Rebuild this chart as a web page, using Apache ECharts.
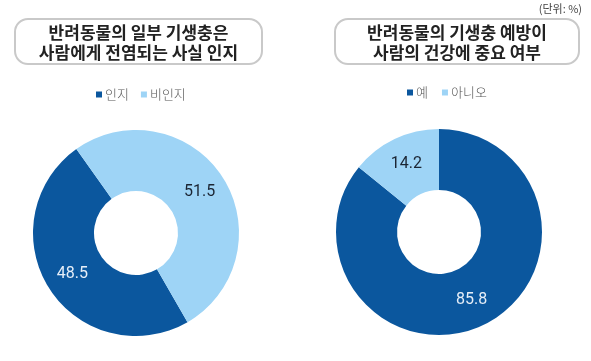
<!DOCTYPE html>
<html>
<head>
<meta charset="utf-8">
<script src="https://cdn.jsdelivr.net/npm/echarts@6/dist/echarts.min.js"></script>
<style>
html,body{margin:0;padding:0;background:#fff;}
#chart{width:591px;height:361px;}
</style>
</head>
<body>
<div id="chart"></div>
<script>
const leftTitle = '반려동물의 일부 기생충은\n사람에게 전염되는 사실 인지';
const rightTitle = '반려동물의 기생충 예방이\n사람의 건강에 중요 여부';
const unitText = '(단위: %)';
const leftCategories = ['인지', '비인지'];
const leftValues = [48.5, 51.5];
const rightCategories = ['예', '아니오'];
const rightValues = [85.8, 14.2];

const DARK = '#0B579E';
const LIGHT = '#9ED4F6';
const colors = [DARK, LIGHT];
const labelColors = ['#e6eef8', '#1b2533'];
const KFONT = '"Noto Sans CJK KR", sans-serif';

function makeData(cats, vals) {
  return cats.map((c, i) => ({
    name: c,
    value: vals[i],
    itemStyle: { color: colors[i] },
    label: { color: labelColors[i] }
  }));
}

function titleBox(x, y, w, h, text) {
  return {
    type: 'group',
    children: [
      { type: 'rect', shape: { x: x, y: y, width: w, height: h, r: 13 },
        style: { fill: '#fff', stroke: '#c9c9c9', lineWidth: 2 } },
      { type: 'text', x: x + w / 2, y: y + h / 2 + 1,
        style: { text: text, textAlign: 'center', textVerticalAlign: 'middle',
          font: 'bold 17px ' + KFONT, lineHeight: 20, fill: '#222' } }
    ]
  };
}

const chart = echarts.init(document.getElementById('chart'));
const pieCommon = {
  type: 'pie',
  radius: [42, 103],
  avoidLabelOverlap: false,
  silent: true,
  label: { show: true, position: 'inside', fontSize: 16, fontFamily: 'Roboto, sans-serif',
    formatter: p => p.value.toFixed(1) },
  labelLine: { show: false },
  itemStyle: { borderWidth: 0 }
};
chart.setOption({
  animation: false,
  legend: [
    { data: leftCategories, left: 91, top: 83, icon: 'rect', itemWidth: 6, itemHeight: 6,
      itemGap: 12, textStyle: { fontSize: 13, color: '#555', fontFamily: KFONT, fontWeight: 300, padding: [0, 0, 0, -2] } },
    { data: rightCategories, left: 402, top: 81, icon: 'rect', itemWidth: 6, itemHeight: 6,
      itemGap: 14, textStyle: { fontSize: 13, color: '#555', fontFamily: KFONT, fontWeight: 300, padding: [0, 0, 0, -2] } }
  ],
  series: [
    Object.assign({}, pieCommon, { center: [136, 233], startAngle: -60, clockwise: true,
      data: makeData(leftCategories, leftValues) }),
    Object.assign({}, pieCommon, { center: [439, 232], startAngle: 90, clockwise: true,
      data: makeData(rightCategories, rightValues) })
  ],
  graphic: [
    titleBox(15, 19, 247, 45, leftTitle),
    titleBox(335, 19, 244, 45, rightTitle),
    { type: 'text', x: 582, y: 9,
      style: { text: unitText, textAlign: 'right', textVerticalAlign: 'middle',
        font: '11px ' + KFONT, fill: '#444' } }
  ]
});
</script>
</body>
</html>
